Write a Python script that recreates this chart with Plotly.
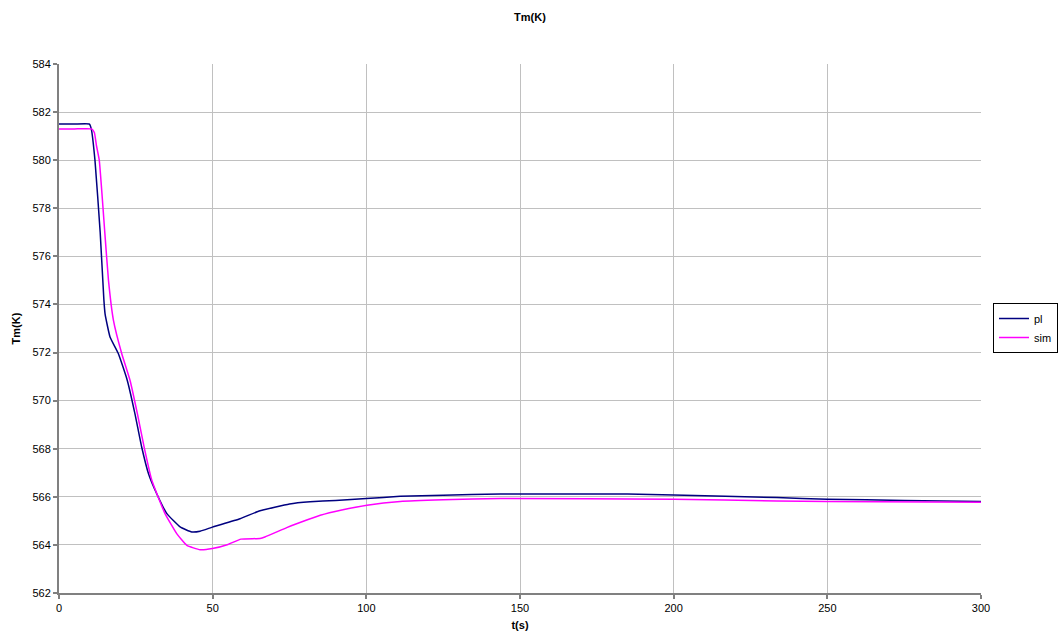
import plotly.graph_objects as go

# Measured plant response (pl)
t_pl = [0, 5, 9.9, 10.5, 11.7, 13.4, 14.6, 15.0, 16.6, 19.3, 22.2, 24.7, 26.9, 29.1, 31.8,
        35.1, 39.4, 43.2, 45.9, 49.9, 58.9, 65.4, 75.0, 81.7, 90, 100, 111, 125, 143.6,
        150, 185, 200, 233.6, 250, 275, 300]
tm_pl = [581.5, 581.5, 581.5, 581.3, 580.0, 577.0, 574.2, 573.6, 572.65, 571.96, 570.85,
         569.46, 568.07, 566.97, 566.13, 565.30, 564.75, 564.54, 564.57, 564.74, 565.09,
         565.42, 565.70, 565.79, 565.85, 565.93, 566.02, 566.07, 566.12, 566.12, 566.12,
         566.08, 565.97, 565.90, 565.85, 565.81]

# Simulated response (sim)
t_sim = [0, 5, 10.6, 11.5, 12.2, 13.1, 14.9, 16.1, 17.7, 20.4, 23.1, 25.5, 27.7, 30.2, 34.5,
         38.3, 41.6, 45.9, 49.9, 55, 59.2, 65.4, 67, 74.1, 78.4, 85, 92, 100.2, 111, 125,
         143.6, 200, 233.6, 250, 300]
tm_sim = [581.3, 581.3, 581.3, 581.15, 580.6, 580.0, 577.0, 575.0, 573.35, 571.96, 570.85,
          569.46, 568.07, 566.69, 565.30, 564.47, 563.98, 563.80, 563.85, 564.02, 564.24,
          564.27, 564.33, 564.72, 564.93, 565.23, 565.45, 565.65, 565.81, 565.88, 565.93,
          565.90, 565.83, 565.81, 565.77]

x_ticks = [0, 50, 100, 150, 200, 250, 300]
y_ticks = list(range(562, 585, 2))

FONT = "Liberation Sans, Arial, sans-serif"
BLACK = "#000000"

fig = go.Figure()
fig.add_trace(go.Scatter(x=t_pl, y=tm_pl, mode="lines", name="pl",
                         line=dict(color="#000080", width=1.5, shape="spline", smoothing=0.4)))
fig.add_trace(go.Scatter(x=t_sim, y=tm_sim, mode="lines", name="sim",
                         line=dict(color="#FF00FF", width=1.5, shape="spline", smoothing=0.4)))

axis_common = dict(
    showgrid=True, gridcolor="#c0c0c0", gridwidth=1,
    showline=True, linecolor="#808080", linewidth=2,
    ticks="outside", ticklen=4, tickcolor="#808080", tickwidth=2,
    tickfont=dict(family=FONT, size=11, color=BLACK),
    zeroline=False, automargin=False,
)

fig.update_layout(
    width=1060, height=640,
    margin=dict(l=59, r=79, t=64, b=47),
    paper_bgcolor="white", plot_bgcolor="white",
    title=dict(text="<b>Tm(K)</b>", x=0.5, xref="container", xanchor="center",
               y=1 - 17 / 640, yref="container", yanchor="middle",
               font=dict(family=FONT, size=11, color=BLACK)),
    xaxis=dict(range=[0, 300], tickvals=x_ticks,
               title=dict(text="<b>t(s)</b>", standoff=8,
                          font=dict(family=FONT, size=11, color=BLACK)),
               **axis_common),
    yaxis=dict(range=[562, 584], tickvals=y_ticks,
               title=dict(text="<b>Tm(K)</b>", standoff=10,
                          font=dict(family=FONT, size=11, color=BLACK)),
               **axis_common),
    legend=dict(xref="container", yref="container",
                x=1058 / 1060, y=1 - 328 / 640, xanchor="right", yanchor="middle",
                bordercolor=BLACK, borderwidth=1, bgcolor="white",
                font=dict(family=FONT, size=11, color=BLACK),
                itemwidth=30, tracegroupgap=0),
    showlegend=True,
)

fig.write_html("out.html")
